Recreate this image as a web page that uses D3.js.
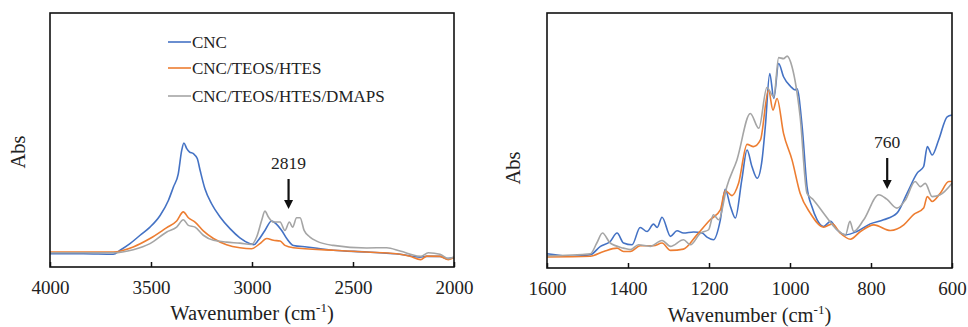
<!DOCTYPE html>
<html><head><meta charset="utf-8">
<script src="https://cdn.jsdelivr.net/npm/d3@7"></script>
<style>body{margin:0;background:#fff}svg{display:block}text{font-family:"Liberation Serif","Times New Roman",serif;fill:#222}</style>
</head><body>
<svg id="c" width="968" height="327"></svg>
<script>
const seriesNames = ["CNC", "CNC/TEOS/HTES", "CNC/TEOS/HTES/DMAPS"];
const colors = ["#4472C4", "#ED7D31", "#A5A5A5"];
const leftTicks = [4000, 3500, 3000, 2500, 2000];
const rightTicks = [1600, 1400, 1200, 1000, 800, 600];

// Left panel [wavenumber, absorbance (a.u.)]
const leftCNC = [[4000,5.2],[3835,5.2],[3687,5.0],[3653,6.6],[3604,9.2],[3554,12.5],[3505,15.7],[3455,20.3],[3414,26.2],[3389,31.5],[3365,36.7],[3348,45.9],[3337,48.8],[3323,46.6],[3310,45.3],[3290,44.6],[3271,42.7],[3257,38.1],[3233,30.8],[3200,24.9],[3158,19.7],[3109,15.1],[3060,11.5],[3010,9.2],[2990,8.8],[2969,10.5],[2936,14.4],[2903,18.1],[2878,16.8],[2853,14.4],[2828,11.2],[2795,8.5],[2729,7.9],[2597,6.6],[2432,5.9],[2267,5.0],[2168,3.9],[2135,4.2],[2069,4.2],[2036,3.3],[2000,3.7]];
const leftTH = [[4000,5.9],[3687,5.9],[3588,7.9],[3505,11.2],[3422,15.5],[3373,18.1],[3340,21.7],[3315,19.4],[3282,17.7],[3241,14.2],[3191,11.2],[3126,8.8],[3060,7.6],[3002,7.2],[2961,9.2],[2927,11.2],[2894,10.5],[2861,10.2],[2837,8.5],[2795,7.6],[2597,6.6],[2432,5.9],[2284,5.2],[2218,4.2],[2165,2.9],[2135,4.3],[2069,4.2],[2028,2.9],[2000,3.7]];
const leftTHD = [[4000,5.6],[3687,5.6],[3588,6.8],[3505,9.2],[3422,13.8],[3373,15.7],[3340,18.6],[3315,16.4],[3282,15.7],[3241,12.5],[3191,10.5],[3126,9.8],[3060,9.4],[3002,8.9],[2977,11.8],[2952,18.4],[2936,22.0],[2919,19.7],[2894,17.7],[2861,17.7],[2837,14.4],[2815,17.7],[2799,15.7],[2779,19.4],[2762,19.4],[2742,14.4],[2713,11.8],[2680,10.2],[2597,8.5],[2432,7.5],[2333,7.6],[2267,6.3],[2165,4.2],[2127,5.6],[2069,5.0],[2028,3.3],[2000,3.9]];

// Right panel
const rightCNC = [[1600,5.6],[1534,4.6],[1493,5.2],[1468,8.5],[1444,10.4],[1427,13.7],[1411,9.8],[1390,9.1],[1370,15.9],[1353,14.3],[1337,17.2],[1328,15.9],[1316,19.9],[1295,12.4],[1279,14.6],[1263,13.7],[1238,14.1],[1217,13.7],[1205,12.1],[1189,11.1],[1172,18.9],[1160,30.9],[1147,24.1],[1135,19.6],[1119,34.6],[1106,46.3],[1094,39.8],[1081,35.2],[1069,42.4],[1061,55.4],[1050,76.3],[1040,66.5],[1028,80.2],[1016,75.0],[999,71.3],[987,69.8],[983,70.4],[970,55.4],[958,31.9],[946,24.1],[933,18.9],[917,16.3],[900,18.3],[884,15.0],[863,13.0],[835,14.3],[802,17.3],[769,18.9],[736,21.5],[711,29.3],[686,37.2],[670,39.8],[661,47.6],[649,44.3],[633,50.2],[612,59.3],[600,60.0]];
const rightTH = [[1600,4.3],[1493,4.6],[1460,6.5],[1427,7.8],[1411,6.5],[1394,6.5],[1370,8.7],[1337,8.7],[1316,9.8],[1295,6.9],[1263,7.4],[1230,13.0],[1197,18.9],[1172,22.8],[1160,30.4],[1143,28.4],[1127,33.2],[1106,48.5],[1090,47.6],[1073,50.2],[1053,69.8],[1042,61.9],[1032,66.5],[1016,52.8],[995,42.4],[975,29.3],[950,21.5],[917,16.0],[896,17.3],[876,13.7],[851,11.3],[826,14.3],[793,16.9],[752,14.7],[719,16.9],[695,20.9],[670,23.5],[661,28.0],[649,26.1],[629,29.3],[608,33.9],[600,33.9]];
const rightTHD = [[1600,4.8],[1493,5.6],[1477,9.8],[1463,13.7],[1444,9.8],[1411,7.8],[1394,7.2],[1374,9.1],[1345,8.5],[1316,10.8],[1295,8.5],[1263,11.1],[1246,9.1],[1221,13.7],[1201,15.0],[1189,20.9],[1176,18.9],[1156,31.9],[1131,42.4],[1098,60.6],[1077,54.8],[1057,70.8],[1040,67.1],[1028,82.5],[1016,82.1],[1007,83.1],[995,78.9],[975,59.3],[958,29.3],[942,26.7],[917,21.5],[884,15.0],[863,13.0],[852,18.3],[843,14.3],[818,18.9],[781,28.7],[761,27.0],[736,23.5],[715,26.7],[691,33.9],[678,31.9],[666,33.2],[649,28.0],[629,28.7],[600,33.2]];

const svg = d3.select("#c");

function panel(o) {
  const x = d3.scaleLinear().domain(o.xdom).range([o.x0, o.x1]);
  const y = d3.scaleLinear().domain([0, 100]).range([o.y1, o.y0]);
  const g = svg.append("g");
  const line = d3.line().x(d => x(d[0])).y(d => y(d[1])).curve(d3.curveMonotoneX);
  o.series.forEach((s, i) => {
    g.append("path").datum(s).attr("d", line).attr("fill", "none")
      .attr("stroke", colors[i]).attr("stroke-width", 1.6).attr("stroke-linejoin", "round");
  });
  // frame
  g.append("rect").attr("x", o.x0).attr("y", o.y0).attr("width", o.x1 - o.x0).attr("height", o.y1 - o.y0)
    .attr("fill", "none").attr("stroke", "#111").attr("stroke-width", 1.6);
  // ticks (inward)
  const ax = g.append("g").attr("transform", `translate(0,${o.y1})`)
    .call(d3.axisBottom(x).tickValues(o.ticks).tickSizeInner(-5).tickSizeOuter(0).tickPadding(14).tickFormat(d3.format("d")));
  ax.select(".domain").remove();
  ax.selectAll("line").attr("stroke", "#111").attr("stroke-width", 1.5);
  ax.selectAll("text").attr("font-size", 19).attr("font-family", "Liberation Serif").attr("fill", "#222");
  // axis title
  const t = g.append("text").attr("x", (o.x0 + o.x1) / 2).attr("y", o.titleY).attr("text-anchor", "middle").attr("font-size", 20.5);
  t.append("tspan").text("Wavenumber (cm");
  t.append("tspan").text("-1").attr("font-size", 13).attr("dy", -8);
  t.append("tspan").text(")").attr("dy", 8);
  g.append("text").attr("transform", `translate(${o.absX},${o.absY}) rotate(-90)`).attr("text-anchor", "middle")
    .attr("font-size", 20.5).text("Abs");
  // annotation
  const ann = o.ann;
  const axp = x(ann.w);
  g.append("text").attr("x", axp).attr("y", ann.ty).attr("text-anchor", "middle").attr("font-size", 17.5).text(String(ann.w));
  g.append("line").attr("x1", axp).attr("x2", axp).attr("y1", ann.a0).attr("y2", ann.a1 - 7)
    .attr("stroke", "#111").attr("stroke-width", 2.2);
  g.append("path").attr("d", `M${axp - 4.5},${ann.a1 - 9}L${axp + 4.5},${ann.a1 - 9}L${axp},${ann.a1}Z`).attr("fill", "#111");
  return {x, y, g};
}

const L = panel({xdom: [4000, 2000], x0: 50, x1: 454, y0: 13, y1: 267, ticks: leftTicks,
  series: [leftCNC, leftTH, leftTHD], titleY: 320, absX: 25, absY: 152,
  ann: {w: 2819, ty: 169, a0: 179, a1: 209}});
const R = panel({xdom: [1600, 600], x0: 547, x1: 952, y0: 13, y1: 268, ticks: rightTicks,
  series: [rightCNC, rightTH, rightTHD], titleY: 322, absX: 520, absY: 168,
  ann: {w: 760, ty: 148, a0: 158, a1: 189}});

// legend
const leg = svg.append("g");
seriesNames.forEach((n, i) => {
  const cy = [42, 68, 96][i];
  leg.append("line").attr("x1", 168).attr("x2", 191).attr("y1", cy).attr("y2", cy).attr("stroke", colors[i]).attr("stroke-width", 1.6);
  leg.append("text").attr("x", 192).attr("y", cy + 6).attr("font-size", 17).text(n);
});
</script>
</body></html>
